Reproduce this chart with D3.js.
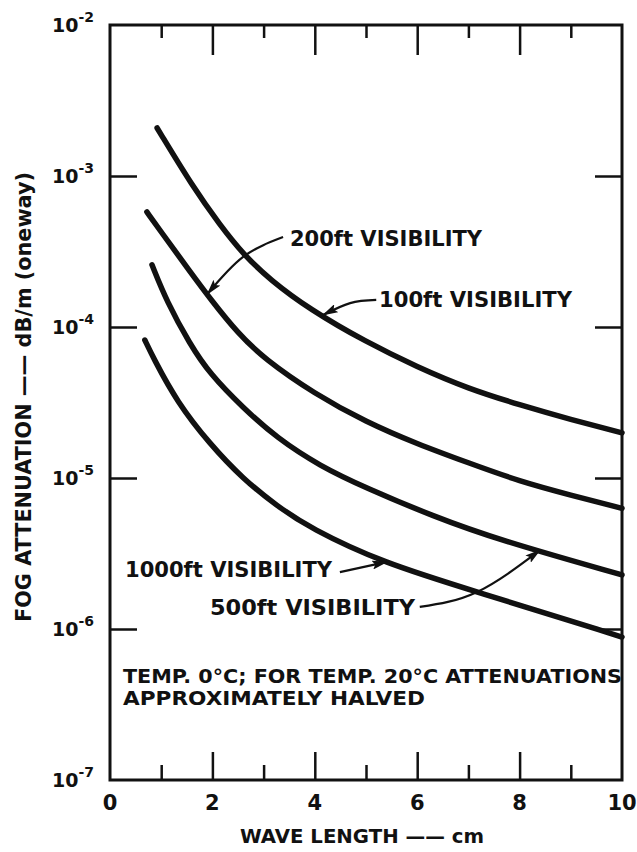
<!DOCTYPE html>
<html><head><meta charset="utf-8">
<script src="https://cdn.jsdelivr.net/npm/d3@7"></script>
<style>body{margin:0;background:#fff}</style>
</head><body><svg id="c" width="637" height="852"></svg>
<script>
// ---- data ----
const xLabelValues = [0, 2, 4, 6, 8, 10];
const xLabels = ["0", "2", "4", "6", "8", "10"];
const xMajorTicks = [2, 4, 6, 8];
const xMinorTicks = [1, 3, 5, 7, 9];
const yDecades = [1e-2, 1e-3, 1e-4, 1e-5, 1e-6, 1e-7];
const yExponents = ["-2", "-3", "-4", "-5", "-6", "-7"];
const yInnerTicks = [1e-3, 1e-4, 1e-5, 1e-6];

const seriesNames = ["100ft VISIBILITY", "200ft VISIBILITY", "500ft VISIBILITY", "1000ft VISIBILITY"];
const x100 = [0.92, 1.62, 2.15, 2.6, 3.13, 3.9, 5, 6, 7, 8, 9, 10];
const v100 = [2.08e-3, 8.45e-4, 4.73e-4, 3.04e-4, 2.05e-4, 1.31e-4, 7.96e-5, 5.43e-5, 3.9e-5, 3.05e-5, 2.44e-5, 1.99e-5];
const x200 = [0.72, 1, 1.5, 2, 2.5, 3, 4, 5, 6, 7, 8, 9, 10];
const v200 = [5.78e-4, 4.26e-4, 2.49e-4, 1.47e-4, 9.1e-5, 6.2e-5, 3.6e-5, 2.35e-5, 1.68e-5, 1.26e-5, 9.5e-6, 7.7e-6, 6.3e-6];
const x500 = [0.82, 1.11, 1.56, 1.95, 2.6, 3.26, 4.1, 5, 6.3, 7.6, 10];
const v500 = [2.58e-4, 1.47e-4, 7.71e-5, 4.89e-5, 2.91e-5, 1.84e-5, 1.2e-5, 8.59e-6, 5.6e-6, 3.88e-6, 2.28e-6];
const x1000 = [0.68, 0.84, 1.31, 1.95, 2.6, 3.26, 3.9, 5.33, 7.17, 10];
const v1000 = [8.2e-5, 6.3e-5, 3.18e-5, 1.68e-5, 9.85e-6, 6.53e-6, 4.67e-6, 2.74e-6, 1.76e-6, 8.85e-7];

// annotation arrows (data coordinates: wavelength, attenuation)
const arrow200 = [[3.38, 3.94e-4], [2.6, 2.91e-4], [1.9, 1.65e-4]];
const arrow100 = [[5.2, 1.51e-4], [4.69, 1.44e-4], [4.16, 1.2e-4]];
const arrow1000 = [[4.49, 2.38e-6], [5.41, 2.78e-6]];
const arrow500 = [[6.05, 1.40e-6], [7.17, 1.76e-6], [8.4, 3.33e-6]];

const xTitle = "WAVE LENGTH —— cm";
const yTitle = "FOG ATTENUATION —— dB/m (oneway)";
const note1 = "TEMP. 0°C; FOR TEMP. 20°C ATTENUATIONS";
const note2 = "APPROXIMATELY HALVED";

// ---- drawing ----
const INK = "#111";
const FONT = "'DejaVu Sans', 'Liberation Sans', sans-serif";
const svg = d3.select("#c");
const x = d3.scaleLinear().domain([0, 10]).range([110, 622]);
const y = d3.scaleLog().domain([1e-7, 1e-2]).range([780, 25]);

svg.append("defs").append("marker")
  .attr("id", "ah").attr("markerUnits", "userSpaceOnUse")
  .attr("markerWidth", 16).attr("markerHeight", 9)
  .attr("refX", 15).attr("refY", 4.5).attr("orient", "auto")
  .append("path").attr("d", "M0,0 L16,4.5 L0,9 L3,4.5 z").attr("fill", INK);

function tickAxis(axis, tx, ty) {
  const g = svg.append("g").attr("transform", `translate(${tx},${ty})`).call(axis);
  g.select(".domain").remove();
  g.selectAll("text").remove();
  g.selectAll("line").attr("stroke", INK).attr("stroke-width", 2.5);
}
tickAxis(d3.axisBottom(x).tickValues(xMajorTicks).tickSize(-28), 0, 780);
tickAxis(d3.axisBottom(x).tickValues(xMinorTicks).tickSize(-15), 0, 780);
tickAxis(d3.axisTop(x).tickValues(xMajorTicks).tickSize(-30), 0, 25);
tickAxis(d3.axisTop(x).tickValues(xMinorTicks).tickSize(-13), 0, 25);
tickAxis(d3.axisLeft(y).tickValues(yInnerTicks).tickSize(-27), 110, 0);
tickAxis(d3.axisRight(y).tickValues(yInnerTicks).tickSize(-27), 622, 0);

svg.append("rect")
  .attr("x", x(0)).attr("y", y(1e-2))
  .attr("width", x(10) - x(0)).attr("height", y(1e-7) - y(1e-2))
  .attr("fill", "none").attr("stroke", INK).attr("stroke-width", 3);

// x labels
svg.append("g").selectAll("text").data(xLabelValues).join("text")
  .attr("x", d => x(d)).attr("y", 810)
  .attr("text-anchor", "middle")
  .attr("font-family", FONT).attr("font-weight", "bold").attr("font-size", 21)
  .attr("fill", INK)
  .text((d, i) => xLabels[i]);

// y labels
const yl = svg.append("g").selectAll("text").data(yDecades).join("text")
  .attr("x", 94).attr("y", d => y(d) + 7)
  .attr("text-anchor", "end")
  .attr("font-family", FONT).attr("font-weight", "bold").attr("font-size", 19)
  .attr("fill", INK);
yl.append("tspan").text("10");
yl.append("tspan").attr("dy", -10).attr("font-size", 14).text((d, i) => yExponents[i]);

// curves
const series = [[x100, v100], [x200, v200], [x500, v500], [x1000, v1000]];
const line = d3.line().x(d => x(d[0])).y(d => y(d[1])).curve(d3.curveBasis);
svg.append("g").selectAll("path").data(series).join("path")
  .attr("d", s => line(s[0].map((xv, i) => [xv, s[1][i]])))
  .attr("fill", "none").attr("stroke", INK).attr("stroke-width", 5.5)
  .attr("stroke-linecap", "round");

// arrows
const aline = d3.line().x(d => x(d[0])).y(d => y(d[1])).curve(d3.curveNatural);
[arrow200, arrow100, arrow1000, arrow500].forEach(a => {
  svg.append("path").attr("d", aline(a))
    .attr("fill", "none").attr("stroke", INK).attr("stroke-width", 2.2)
    .attr("marker-end", "url(#ah)");
});

function label(txt, x0, base, len, size) {
  svg.append("text").attr("x", x0).attr("y", base)
    .attr("font-family", FONT).attr("font-weight", "bold").attr("font-size", size)
    .attr("fill", INK)
    .attr("textLength", len).attr("lengthAdjust", "spacingAndGlyphs")
    .text(txt);
}
label(seriesNames[1], 290, 246, 192, 21);
label(seriesNames[0], 379, 307, 193, 21);
label(seriesNames[3], 125, 577, 207, 21);
label(seriesNames[2], 210, 615, 205, 21);
label(note1, 123, 683, 499, 20);
label(note2, 123, 705, 302, 20);

// axis titles
svg.append("text").attr("x", 362).attr("y", 843).attr("text-anchor", "middle")
  .attr("font-family", FONT).attr("font-weight", "bold").attr("font-size", 20)
  .attr("fill", INK).attr("textLength", 244).attr("lengthAdjust", "spacingAndGlyphs")
  .text(xTitle);
svg.append("text").attr("transform", "translate(31,397) rotate(-90)")
  .attr("text-anchor", "middle")
  .attr("font-family", FONT).attr("font-weight", "bold").attr("font-size", 21)
  .attr("fill", INK).attr("textLength", 450).attr("lengthAdjust", "spacingAndGlyphs")
  .text(yTitle);
</script>
</body></html>
